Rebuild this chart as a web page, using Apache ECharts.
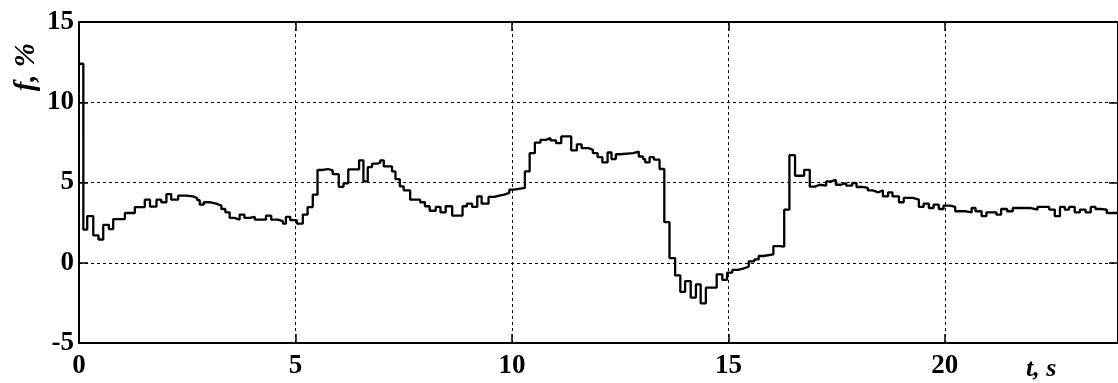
<!DOCTYPE html>
<html>
<head>
<meta charset="utf-8">
<script src="https://cdn.jsdelivr.net/npm/echarts@6/dist/echarts.min.js"></script>
<style>
  html, body { margin: 0; padding: 0; background: #fff; }
  #chart { width: 1118px; height: 383px; }
</style>
</head>
<body>
<div id="chart"></div>
<script>
// Sample-and-hold frequency deviation: each value holds from its start time to the next one.
const stepTimes = [
  0, 0.1, 0.19, 0.33, 0.45, 0.56, 0.69, 0.79, 1.06, 1.29,
  1.52, 1.64, 1.79, 1.9, 2.02, 2.13, 2.29, 2.48, 2.63, 2.73,
  2.79, 2.88, 3.02, 3.17, 3.29, 3.38, 3.48, 3.59, 3.71, 3.82,
  3.94, 4.06, 4.32, 4.44, 4.59, 4.71, 4.78, 4.88, 5.03, 5.17,
  5.28, 5.4, 5.51, 5.63, 5.75, 5.86, 6.0, 6.11, 6.22, 6.47,
  6.57, 6.67, 6.77, 6.89, 6.96, 7.04, 7.23, 7.31, 7.41, 7.5,
  7.65, 7.88, 7.99, 8.1, 8.24, 8.35, 8.47, 8.62, 8.86, 8.96,
  9.08, 9.2, 9.3, 9.46, 9.59, 9.71, 9.82, 9.94, 10.05, 10.3,
  10.41, 10.53, 10.66, 10.78, 10.89, 11.02, 11.14, 11.37, 11.5, 11.61,
  11.77, 11.87, 11.98, 12.09, 12.21, 12.3, 12.4, 12.5, 12.8, 12.93,
  13.03, 13.08, 13.18, 13.28, 13.41, 13.52, 13.64, 13.77, 13.89, 14.0,
  14.13, 14.25, 14.36, 14.48, 14.73, 14.86, 14.97, 15.09, 15.22, 15.34,
  15.47, 15.6, 15.7, 15.81, 16.04, 16.19, 16.29, 16.41, 16.54, 16.75,
  16.88, 17.0, 17.11, 17.26, 17.38, 17.48, 17.6, 17.72, 17.86, 17.96,
  18.1, 18.22, 18.33, 18.47, 18.57, 18.69, 18.79, 18.94, 19.05, 19.26,
  19.4, 19.51, 19.63, 19.74, 19.86, 19.97, 20.12, 20.24, 20.46, 20.62,
  20.71, 20.85, 20.96, 21.19, 21.3, 21.44, 21.57, 21.99, 22.14, 22.41,
  22.54, 22.66, 22.77, 22.87, 23.0, 23.12, 23.25, 23.37, 23.48, 23.6,
  23.74, 24
];
const fValues = [
  12.4, 2.07, 2.9, 1.7, 1.45, 2.36, 2.1, 2.72, 3.1, 3.47,
  3.93, 3.5, 3.93, 3.77, 4.28, 3.93, 4.18, 4.14, 4.03, 3.9,
  3.62, 3.77, 3.68, 3.56, 3.35, 3.14, 2.8, 2.69, 3.0, 2.8,
  2.86, 2.69, 2.94, 2.69, 2.59, 2.44, 2.86, 2.65, 2.44, 3.0,
  3.47, 4.24, 5.78, 5.84, 5.75, 5.52, 4.73, 4.95, 5.82, 6.38,
  5.07, 5.96, 6.17, 6.25, 6.38, 6.0, 5.69, 5.21, 4.76, 4.51,
  3.93, 3.77, 3.52, 3.24, 3.48, 3.14, 3.52, 2.94, 3.52, 3.68,
  3.48, 4.14, 3.68, 4.1, 4.18, 4.24, 4.35, 4.55, 4.66, 5.69,
  6.83, 7.49, 7.66, 7.76, 7.62, 7.45, 7.87, 7.0, 7.38, 7.14,
  7.04, 6.83, 6.58, 6.25, 6.87, 6.46, 6.76, 6.83, 6.93, 6.62,
  6.46, 6.25, 6.58, 6.42, 5.84, 2.53, 0.29, -0.79, -1.82, -1.14,
  -2.17, -1.35, -2.53, -1.55, -0.72, -1.07, -0.62, -0.45, -0.37, -0.25,
  0.08, 0.21, 0.42, 0.52, 1.04, 1.0, 3.31, 6.7, 5.42, 5.79,
  4.74, 4.86, 4.8, 5.07, 5.17, 4.86, 4.97, 4.8, 4.97, 4.72,
  4.66, 4.51, 4.39, 4.51, 4.14, 4.39, 4.14, 3.77, 4.04, 3.93,
  3.48, 3.68, 3.41, 3.62, 3.35, 3.56, 3.48, 3.21, 3.14, 3.41,
  3.21, 2.9, 3.14, 3.0, 3.35, 3.21, 3.41, 3.31, 3.48, 3.31,
  2.9, 3.48, 3.31, 3.48, 3.14, 3.31, 3.14, 3.48, 3.35, 3.31,
  3.1, 3.1
];
const xTickValues = [0, 5, 10, 15, 20];
const yTickValues = [-5, 0, 5, 10, 15];

const xMin = 0, xMax = 24, xStep = xTickValues[1] - xTickValues[0];
const yMin = yTickValues[0], yMax = yTickValues[yTickValues.length - 1];
const yStep = yTickValues[1] - yTickValues[0];

const labelFont = {
  fontFamily: 'Liberation Serif',
  fontWeight: 'bold',
  fontSize: 27,
  color: '#000'
};
const frameLine = { show: true, onZero: false, lineStyle: { color: '#000', width: 2 } };
const innerTick = { show: true, inside: true, length: 9, lineStyle: { color: '#000', width: 1.5 } };
const gridDash = { show: true, lineStyle: { color: '#000', width: 1, type: [3, 3] } };

const seriesData = stepTimes.map((t, i) => [t, fValues[i]]);

const chart = echarts.init(document.getElementById('chart'), null, { renderer: 'canvas' });
chart.setOption({
  backgroundColor: '#fff',
  animation: false,
  grid: { left: 79, top: 22, right: -10, bottom: 40, containLabel: false },
  xAxis: [
    {
      type: 'value', position: 'bottom', min: xMin, max: xMax, interval: xStep,
      axisLine: frameLine, axisTick: innerTick, splitLine: gridDash,
      axisLabel: Object.assign({
        margin: 10, showMaxLabel: false,
        formatter: v => (xTickValues.includes(v) ? String(v) : '')
      }, labelFont)
    },
    {
      type: 'value', position: 'top', min: xMin, max: xMax, interval: xStep,
      axisLine: frameLine, axisTick: innerTick, splitLine: { show: false },
      axisLabel: { show: false }
    }
  ],
  yAxis: [
    {
      type: 'value', position: 'left', min: yMin, max: yMax, interval: yStep,
      axisLine: frameLine, axisTick: innerTick, splitLine: gridDash,
      axisLabel: Object.assign({ margin: 5 }, labelFont)
    },
    {
      type: 'value', position: 'right', min: yMin, max: yMax, interval: yStep,
      axisLine: frameLine, axisTick: innerTick, splitLine: { show: false },
      axisLabel: { show: false }
    }
  ],
  graphic: [
    {
      type: 'text', left: 12, top: 43, rotation: Math.PI / 2,
      style: {
        text: 'f, %', fill: '#000',
        font: 'italic bold 29px "Liberation Serif"'
      }
    },
    {
      type: 'text', left: 1026, top: 356,
      style: {
        text: 't, s', fill: '#000',
        font: 'italic bold 26px "Liberation Serif"'
      }
    }
  ],
  series: [
    {
      type: 'line', xAxisIndex: 0, yAxisIndex: 0,
      step: 'end', showSymbol: false, symbol: 'none',
      lineStyle: { color: '#000', width: 2.3 },
      data: seriesData
    }
  ]
});
</script>
</body>
</html>
